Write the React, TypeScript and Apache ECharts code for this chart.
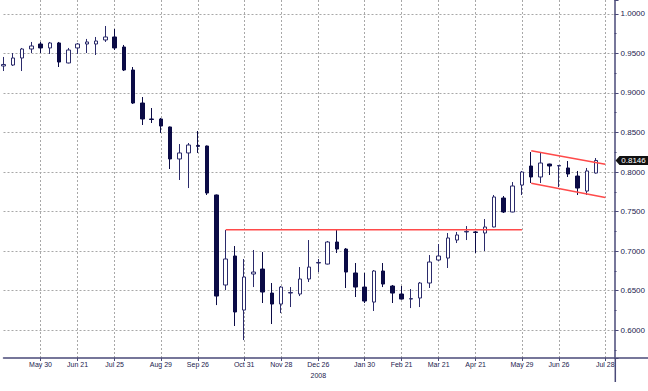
import React, { useEffect, useRef } from 'react';
import * as echarts from 'echarts';

// [open, close, low, high] weekly candles
const ohlc: number[][] = [
  [0.9342, 0.9361, 0.9278, 0.9456],
  [0.9354, 0.9443, 0.9342, 0.9506],
  [0.9443, 0.9557, 0.9278, 0.9570],
  [0.9557, 0.9595, 0.9506, 0.9646],
  [0.9620, 0.9570, 0.9506, 0.9646],
  [0.9570, 0.9633, 0.9494, 0.9646],
  [0.9633, 0.9392, 0.9329, 0.9646],
  [0.9380, 0.9544, 0.9375, 0.9570],
  [0.9570, 0.9620, 0.9494, 0.9633],
  [0.9620, 0.9646, 0.9506, 0.9684],
  [0.9620, 0.9658, 0.9481, 0.9709],
  [0.9671, 0.9709, 0.9646, 0.9848],
  [0.9709, 0.9570, 0.9544, 0.9810],
  [0.9582, 0.9291, 0.9278, 0.9608],
  [0.9291, 0.8873, 0.8861, 0.9329],
  [0.8873, 0.8671, 0.8595, 0.8949],
  [0.8671, 0.8665, 0.8620, 0.8810],
  [0.8671, 0.8582, 0.8494, 0.8684],
  [0.8570, 0.8165, 0.8038, 0.8575],
  [0.8165, 0.8241, 0.7899, 0.8354],
  [0.8241, 0.8342, 0.7797, 0.8367],
  [0.8335, 0.8325, 0.8241, 0.8519],
  [0.8329, 0.7734, 0.7709, 0.8335],
  [0.7709, 0.6430, 0.6316, 0.7715],
  [0.6570, 0.6899, 0.6506, 0.7266],
  [0.6937, 0.6228, 0.6051, 0.7063],
  [0.6253, 0.6671, 0.5873, 0.6899],
  [0.6709, 0.6734, 0.6544, 0.7013],
  [0.6772, 0.6481, 0.6342, 0.6987],
  [0.6468, 0.6329, 0.6076, 0.6595],
  [0.6329, 0.6544, 0.6215, 0.6557],
  [0.6468, 0.6475, 0.6291, 0.6544],
  [0.6456, 0.6646, 0.6430, 0.6797],
  [0.6646, 0.6797, 0.6608, 0.7139],
  [0.6848, 0.6855, 0.6734, 0.6899],
  [0.6835, 0.7114, 0.6830, 0.7127],
  [0.7114, 0.7025, 0.6975, 0.7266],
  [0.7025, 0.6734, 0.6532, 0.7038],
  [0.6722, 0.6544, 0.6418, 0.6848],
  [0.6544, 0.6367, 0.6342, 0.6722],
  [0.6354, 0.6747, 0.6241, 0.6759],
  [0.6747, 0.6582, 0.6544, 0.6848],
  [0.6557, 0.6468, 0.6342, 0.6570],
  [0.6456, 0.6392, 0.6385, 0.6557],
  [0.6392, 0.6398, 0.6278, 0.6519],
  [0.6405, 0.6595, 0.6291, 0.6608],
  [0.6595, 0.6861, 0.6532, 0.6949],
  [0.6886, 0.6937, 0.6873, 0.7089],
  [0.6911, 0.7165, 0.6785, 0.7228],
  [0.7139, 0.7203, 0.7101, 0.7241],
  [0.7241, 0.7248, 0.7139, 0.7316],
  [0.7241, 0.7235, 0.6975, 0.7253],
  [0.7228, 0.7304, 0.7000, 0.7405],
  [0.7304, 0.7684, 0.7300, 0.7709],
  [0.7671, 0.7494, 0.7481, 0.7696],
  [0.7494, 0.7823, 0.7490, 0.7873],
  [0.7835, 0.8000, 0.7709, 0.8013],
  [0.8076, 0.7937, 0.7861, 0.8253],
  [0.7937, 0.8114, 0.7861, 0.8241],
  [0.8101, 0.8076, 0.7962, 0.8105],
  [0.8076, 0.8082, 0.7810, 0.8089],
  [0.8051, 0.7975, 0.7937, 0.8139],
  [0.7949, 0.7797, 0.7709, 0.8013],
  [0.7759, 0.8013, 0.7709, 0.8051],
  [0.7987, 0.8146, 0.7980, 0.8177],
];

// category slots: one per week plus two empty weeks at the right edge
const categories: string[] = ohlc.map((_, i) => String(i)).concat([String(ohlc.length), String(ohlc.length + 1)]);

const tickIndices = [4, 8, 12, 17, 21, 26, 30, 34, 39, 43, 47, 51, 56, 60, 65];
const tickLabels = ['May 30', 'Jun 21', 'Jul 25', 'Aug 29', 'Sep 26', 'Oct 31', 'Nov 28', 'Dec 26', 'Jan 30', 'Feb 21', 'Mar 21', 'Apr 21', 'May 29', 'Jun 26', 'Jul 28'];
const yearLabelIndex = 34;
const yearLabel = '2008';

const supportLine = [[24, 0.727], [56, 0.727]];
const channelUpper = [[57, 0.8270], [65, 0.8097]];
const channelLower = [[57, 0.7857], [65, 0.7677]];
const lastPrice = 0.8146;

const yMin = 0.5646;
const yMax = 1.0177;

const FONT = "'Liberation Sans Narrow', 'Liberation Sans', Arial, sans-serif";
const LABEL_COLOR = '#22224e';
const AXIS_COLOR = '#4a4a78';

export default function App() {
  const ref = useRef<HTMLDivElement>(null);
  useEffect(() => {
    if (!ref.current) return;
    const chart = echarts.init(ref.current, null, { renderer: 'svg' });
    const redLine = (pts: number[][]) => ({
      type: 'line',
      data: pts.map((p) => [String(p[0]), p[1]]),
      symbol: 'none',
      silent: true,
      lineStyle: { color: '#ff4a4a', width: 1.5 },
      z: 3,
    });
    const option: any = {
      animation: false,
      backgroundColor: '#ffffff',
      grid: { left: 3.5, right: 32.7, top: 0, bottom: 33, containLabel: false },
      xAxis: {
        type: 'category',
        data: categories,
        boundaryGap: false,
        axisLine: { show: true, lineStyle: { color: AXIS_COLOR, width: 1.5 } },
        axisTick: {
          show: true,
          length: 3,
          interval: (i: number) => tickIndices.includes(i),
          lineStyle: { color: AXIS_COLOR },
        },
        axisLabel: {
          interval: (i: number) => tickIndices.includes(i),
          formatter: (_v: string, i: number) => {
            const k = tickIndices.indexOf(i);
            if (k < 0) return '';
            return i === yearLabelIndex ? tickLabels[k] + '\n' + yearLabel : tickLabels[k];
          },
          fontSize: 7,
          lineHeight: 11,
          margin: 1,
          color: LABEL_COLOR,
          fontFamily: FONT,
        },
        splitLine: {
          show: true,
          interval: (i: number) => tickIndices.includes(i),
          lineStyle: { color: '#a8a8a8', type: [2, 2], width: 1 },
        },
      },
      yAxis: {
        type: 'value',
        position: 'right',
        min: yMin,
        max: yMax,
        splitNumber: 9,
        axisLine: { show: true, lineStyle: { color: AXIS_COLOR, width: 1.5 } },
        axisTick: { show: true, length: 4, lineStyle: { color: AXIS_COLOR } },
        minorTick: { show: true, splitNumber: 2, length: 2, lineStyle: { color: AXIS_COLOR } },
        axisLabel: {
          showMinLabel: false,
          showMaxLabel: false,
          formatter: (v: number) => v.toFixed(4),
          fontSize: 8,
          margin: 6,
          color: LABEL_COLOR,
          fontFamily: FONT,
        },
        splitLine: {
          show: true,
          showMinLine: false,
          showMaxLine: false,
          lineStyle: { color: '#a8a8a8', type: [2, 2], width: 1 },
        },
      },
      series: [
        {
          type: 'candlestick',
          data: ohlc,
          barWidth: 4,
          itemStyle: {
            color: '#ffffff',
            color0: '#0b0b46',
            borderColor: '#2b2b6b',
            borderColor0: '#0b0b46',
            borderWidth: 1,
          },
          markPoint: {
            silent: true,
            symbol: 'path://M0,4 L4,0 L36,0 L36,8 L4,8 Z',
            symbolSize: [36, 9],
            symbolOffset: [19, 0],
            itemStyle: { color: '#111111' },
            label: { show: true, formatter: lastPrice.toFixed(4), color: '#ffffff', fontSize: 8, fontFamily: FONT },
            data: [{ coord: [String(ohlc.length + 1), lastPrice], value: lastPrice }],
          },
          z: 2,
        },
        redLine(supportLine),
        redLine(channelUpper),
        redLine(channelLower),
      ],
      graphic: [
        { type: 'line', silent: true, shape: { x1: 615.3, y1: 358, x2: 615.3, y2: 382 }, style: { stroke: AXIS_COLOR, lineWidth: 1.5 } },
        { type: 'line', silent: true, shape: { x1: 615.3, y1: 358, x2: 648, y2: 358 }, style: { stroke: AXIS_COLOR, lineWidth: 1.5 } },
      ],
    };
    chart.setOption(option);
    return () => chart.dispose();
  }, []);
  return (
    <div
      ref={ref}
      style={{ position: 'fixed', left: 0, top: 0, width: 648, height: 391, background: '#fff' }}
    />
  );
}
